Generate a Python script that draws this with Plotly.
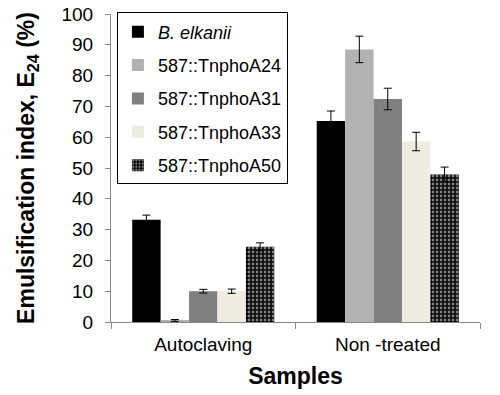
import plotly.graph_objects as go

categories = ["Autoclaving", "Non -treated"]
series_names = ["<i>B. elkanii</i>", "587::TnphoA24", "587::TnphoA31", "587::TnphoA33", "587::TnphoA50"]
values = {
    "<i>B. elkanii</i>": [33.2, 65.3],
    "587::TnphoA24": [0.5, 88.5],
    "587::TnphoA31": [10.0, 72.4],
    "587::TnphoA33": [10.0, 58.6],
    "587::TnphoA50": [24.4, 47.9],
}
errors = {
    "<i>B. elkanii</i>": [1.5, 3.2],
    "587::TnphoA24": [0.3, 4.3],
    "587::TnphoA31": [0.6, 3.5],
    "587::TnphoA33": [0.7, 3.0],
    "587::TnphoA50": [1.3, 2.4],
}
colors = ["#000000", "#b2b2b2", "#808080", "#eeece1", "#000000"]

FONT = "Arial, Liberation Sans, sans-serif"

fig = go.Figure()
for i, name in enumerate(series_names):
    marker = dict(color=colors[i], line=dict(width=0))
    if i == 4:
        marker["pattern"] = dict(shape=".", fgcolor="white", bgcolor="black", size=4, solidity=0.4, fillmode="overlay")
    fig.add_trace(go.Bar(
        x=categories, y=values[name], name=name,
        marker=marker,
        error_y=dict(type="data", array=errors[name], color="black", thickness=1, width=4),
        legendgroup=str(i),
    ))

fig.update_layout(
    width=500, height=395,
    barmode="group", bargap=0.23, bargroupgap=0,
    plot_bgcolor="white", paper_bgcolor="white",
    margin=dict(l=111, r=20, t=14, b=73, autoexpand=False),
    font=dict(family=FONT, size=18, color="black"),
    legend=dict(
        x=0.016, y=1.005, xanchor="left", yanchor="top",
        bordercolor="black", borderwidth=1, bgcolor="white",
        font=dict(size=18), tracegroupgap=7, itemwidth=30,
    ),
    showlegend=True,
)
fig.update_yaxes(
    range=[0, 100], dtick=10, showgrid=False, zeroline=False,
    showline=True, linecolor="#868686", linewidth=1,
    ticks="outside", ticklen=5, tickcolor="#868686",
    tickfont=dict(size=19), automargin=False, ticklabelstandoff=8,
    ticklabeloverflow="allow",
    title=dict(text="<b>Emulsification index, E<sub>24</sub> (%)</b>", font=dict(size=23), standoff=20),
)
fig.update_xaxes(
    showgrid=False, showline=True, linecolor="#868686", linewidth=1,
    ticks="outside", ticklen=6, tickcolor="#868686", tickson="boundaries",
    tickfont=dict(size=19), automargin=False, ticklabelstandoff=5,
    ticklabeloverflow="allow",
    title=dict(text="<b>Samples</b>", font=dict(size=23), standoff=14),
)
fig.write_html("out.html", config={"displayModeBar": False},
               post_script="document.body.style.margin='0';")
